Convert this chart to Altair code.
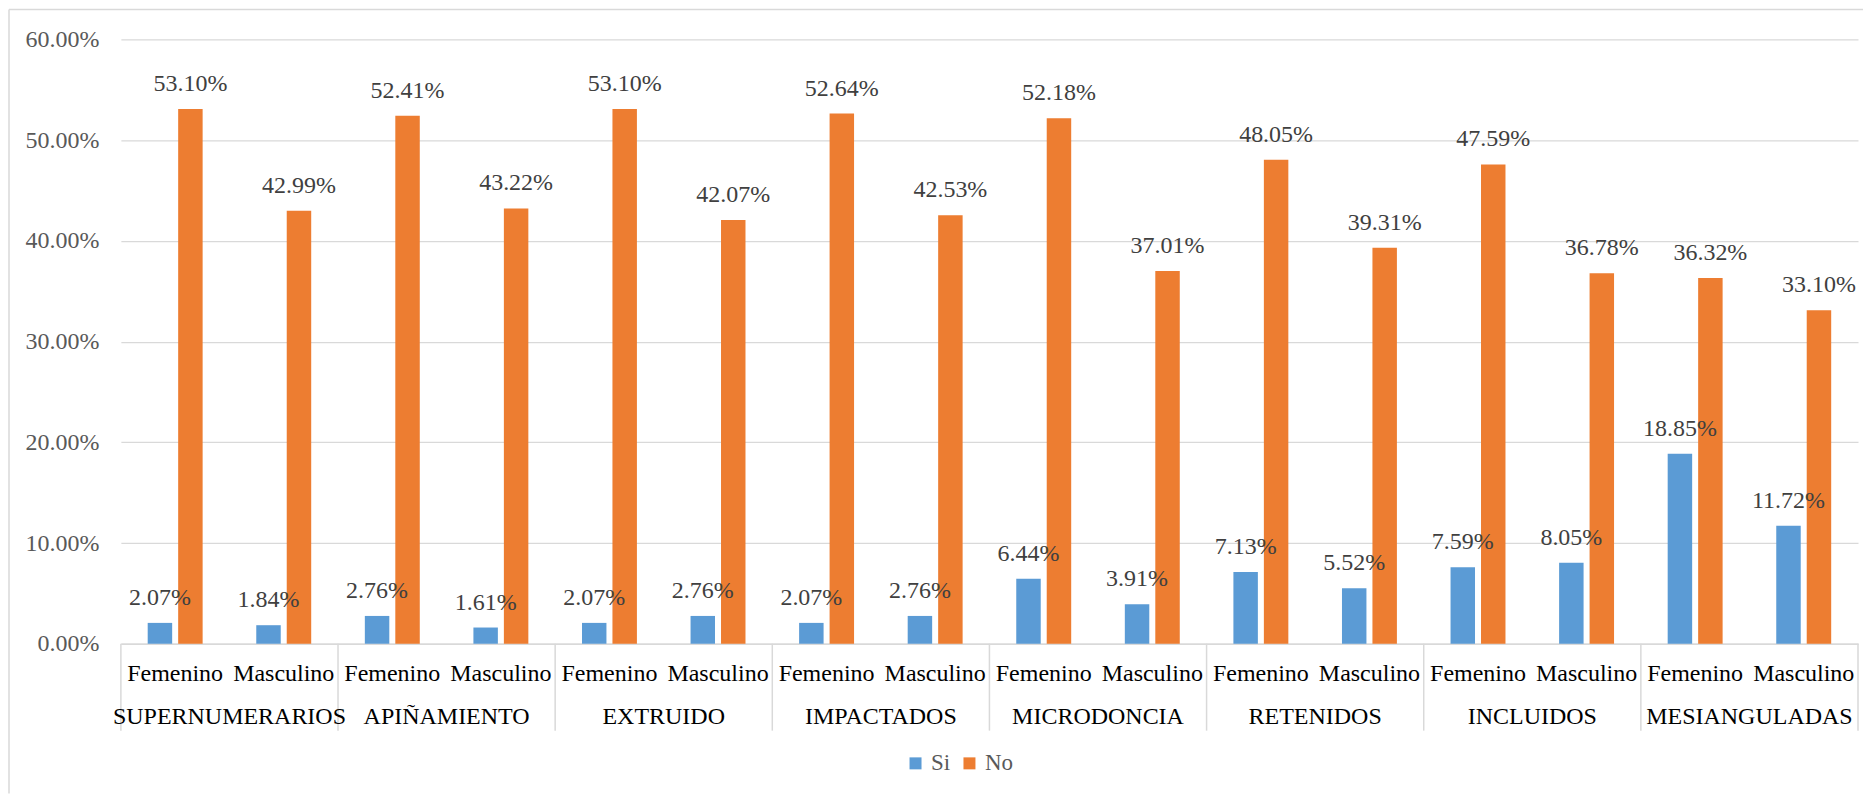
import altair as alt
import pandas as pd

categories = ["SUPERNUMERARIOS", "APIÑAMIENTO", "EXTRUIDO", "IMPACTADOS",
              "MICRODONCIA", "RETENIDOS", "INCLUIDOS", "MESIANGULADAS"]
sexes = ["Femenino", "Masculino"]
series = ["Si", "No"]
si_femenino = [2.07, 2.76, 2.07, 2.07, 6.44, 7.13, 7.59, 18.85]
si_masculino = [1.84, 1.61, 2.76, 2.76, 3.91, 5.52, 8.05, 11.72]
no_femenino = [53.10, 52.41, 53.10, 52.64, 52.18, 48.05, 47.59, 36.32]
no_masculino = [42.99, 43.22, 42.07, 42.53, 37.01, 39.31, 36.78, 33.10]
y_ticks = [0, 10, 20, 30, 40, 50, 60]

vals = {
    ("Femenino", "Si"): si_femenino,
    ("Masculino", "Si"): si_masculino,
    ("Femenino", "No"): no_femenino,
    ("Masculino", "No"): no_masculino,
}

rows = []
keys = []
for i, c in enumerate(categories):
    for s in sexes:
        k = c + "|" + s
        keys.append(k)
        for se in series:
            rows.append({"cat": c, "sex": s, "key": k, "serie": se,
                         "val": vals[(s, se)][i] / 100.0})
df = pd.DataFrame(rows)
df_keys = pd.DataFrame([{"cat": c, "sex": s, "key": c + "|" + s}
                        for c in categories for s in sexes])

W = 1739
H = 605
FONT = "Liberation Serif"
GRID = "#d9d9d9"

xenc = alt.X("key:N",
             scale=alt.Scale(domain=keys, paddingInner=0, paddingOuter=0),
             axis=alt.Axis(title=None, labelExpr="split(datum.label, '|')[1]",
                           labelAngle=0, labelFontSize=24, labelFont=FONT,
                           labelColor="#000000", ticks=False, tickSize=0,
                           labelPadding=37, labelBaseline="alphabetic",
                           labelOverlap=False, domainColor=GRID,
                           domainWidth=1.5, grid=False))
xoff = alt.XOffset("serie:N",
                   scale=alt.Scale(domain=series, paddingInner=0.197,
                                   paddingOuter=0.88))
yenc = alt.Y("val:Q",
             scale=alt.Scale(domain=[0, 0.6]),
             axis=alt.Axis(title=None, values=[v / 100 for v in y_ticks],
                           format=".2%", labelFontSize=24, labelFont=FONT,
                           labelColor="#595959", domain=False, ticks=False,
                           labelPadding=22, gridColor=GRID, gridWidth=1.3))
color = alt.Color("serie:N",
                  scale=alt.Scale(domain=series, range=["#5B9BD5", "#ED7D31"]),
                  legend=alt.Legend(title=None, orient="none", direction="horizontal",
                                    legendX=784, legendY=713, symbolType="square",
                                    symbolSize=144, symbolStrokeWidth=0,
                                    labelFont=FONT, labelFontSize=23,
                                    labelColor="#595959", labelOffset=4,
                                    columnPadding=7, padding=0))

base = alt.Chart(df)
bars = base.mark_bar().encode(x=xenc, xOffset=xoff, y=yenc, color=color)
labels = base.mark_text(dy=-18, baseline="alphabetic", fontSize=24, font=FONT,
                        color="#404040").encode(
    x=alt.X("key:N"), xOffset=alt.XOffset("serie:N"), y=alt.Y("val:Q"),
    text=alt.Text("val:Q", format=".2%"))

seps = alt.Chart(df_keys[df_keys.sex == "Femenino"]).mark_rule(
    color=GRID, strokeWidth=1.5).encode(
    x=alt.X("key:N", bandPosition=0), y=alt.value(H), y2=alt.value(H + 87))
one = pd.DataFrame({"a": [0]})
last_sep = alt.Chart(one).mark_rule(color=GRID, strokeWidth=1.5).encode(
    x=alt.value(W), y=alt.value(H), y2=alt.value(H + 87))

cat_text = alt.Chart(df_keys[df_keys.sex == "Masculino"]).mark_text(
    baseline="alphabetic", fontSize=24, font=FONT, color="#000000").encode(
    x=alt.X("key:N", bandPosition=0), y=alt.value(685), text="cat:N")

frame_left = alt.Chart(one).mark_rule(color=GRID, strokeWidth=1.5).encode(
    x=alt.value(-112), y=alt.value(-30), y2=alt.value(755))
frame_top = alt.Chart(one).mark_rule(color=GRID, strokeWidth=1.5).encode(
    x=alt.value(-112), x2=alt.value(W + 5), y=alt.value(-30))

chart = alt.layer(frame_left, frame_top, bars, labels, seps, last_sep, cat_text).properties(
    width=W, height=H, padding=0
).configure(
    font=FONT
).configure_axis(
    labelFont=FONT
).configure_legend(
    labelFont=FONT
).configure_text(
    font=FONT
).configure_view(stroke=None)

chart.save("out.html", embed_options={"renderer": "svg", "actions": False})
